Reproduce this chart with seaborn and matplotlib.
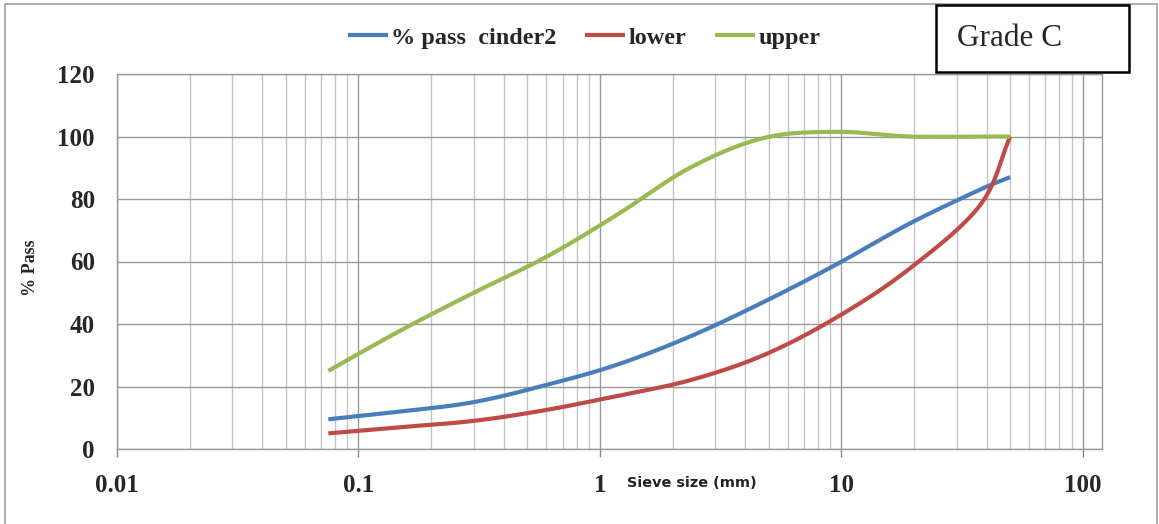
import numpy as np
import pandas as pd
import matplotlib
matplotlib.use("Agg")
import matplotlib.pyplot as plt
from matplotlib.patches import Rectangle
from matplotlib.ticker import LogLocator, NullFormatter, FixedLocator
import seaborn as sns

# Sieve sizes (mm) and percent passing for each curve
sieve_mm = [0.075, 0.15, 0.3, 0.6, 1.18, 2.36, 4.75, 9.5, 19.0, 37.5, 50.0]
pass_cinder2 = [9.5, 12.0, 15.0, 20.5, 27.0, 36.0, 47.0, 59.0, 72.0, 83.0, 87.0]
lower_limit = [5.0, 7.0, 9.0, 12.5, 17.0, 22.0, 30.0, 42.0, 57.5, 78.0, 100.0]
upper_limit = [25.0, 38.0, 50.0, 61.5, 75.0, 90.0, 99.5, 101.5, 100.0, 100.0, 100.0]

series_names = ["% pass  cinder2", "lower", "upper"]
series_values = [pass_cinder2, lower_limit, upper_limit]
series_colors = ["#4a7ebb", "#be4b48", "#98b954"]

x_ticks = [0.01, 0.1, 1, 10, 100]
x_tick_labels = ["0.01", "0.1", "1", "10", "100"]
y_ticks = [0, 20, 40, 60, 80, 100, 120]


def smooth_curve(xs, ys, steps=30):
    """Catmull-Rom smoothing in log10(x) space, like a spreadsheet 'smoothed line'."""
    lx = np.log10(np.asarray(xs, float))
    yy = np.asarray(ys, float)
    px = np.concatenate([[2 * lx[0] - lx[1]], lx, [2 * lx[-1] - lx[-2]]])
    py = np.concatenate([[2 * yy[0] - yy[1]], yy, [2 * yy[-1] - yy[-2]]])
    out_x, out_y = [], []
    t = np.linspace(0, 1, steps, endpoint=False)
    for i in range(1, len(px) - 2):
        p0x, p1x, p2x, p3x = px[i - 1:i + 3]
        p0y, p1y, p2y, p3y = py[i - 1:i + 3]
        # Bezier control points derived from neighbouring points
        c1x, c1y = p1x + (p2x - p0x) / 6, p1y + (p2y - p0y) / 6
        c2x, c2y = p2x - (p3x - p1x) / 6, p2y - (p3y - p1y) / 6
        bx = (1 - t) ** 3 * p1x + 3 * (1 - t) ** 2 * t * c1x + 3 * (1 - t) * t ** 2 * c2x + t ** 3 * p2x
        by = (1 - t) ** 3 * p1y + 3 * (1 - t) ** 2 * t * c1y + 3 * (1 - t) * t ** 2 * c2y + t ** 3 * p2y
        out_x.extend(bx)
        out_y.extend(by)
    out_x.append(lx[-1])
    out_y.append(yy[-1])
    return 10 ** np.array(out_x), np.array(out_y)


sns.set_theme(style="white")
plt.rcParams["font.family"] = ["Liberation Serif", "DejaVu Serif"]

W, H = 1159, 524
fig = plt.figure(figsize=(W / 100, H / 100), dpi=100)
ax = fig.add_axes([117 / W, 1 - 449 / H, (1102 - 117) / W, (449 - 74) / H])

for name, vals, color in zip(series_names, series_values, series_colors):
    sx, sy = smooth_curve(sieve_mm, vals)
    curve = pd.DataFrame({"size": sx, "pass": sy})
    sns.lineplot(data=curve, x="size", y="pass", sort=False, color=color,
                 linewidth=3, ax=ax, label=name, solid_capstyle="butt")

ax.set_xscale("log")
ax.set_xlim(0.01, 120)
ax.set_ylim(0, 120)

ax.xaxis.set_major_locator(FixedLocator(x_ticks))
ax.set_xticklabels(x_tick_labels)
ax.xaxis.set_minor_locator(LogLocator(base=10, subs=np.arange(2, 10)))
ax.xaxis.set_minor_formatter(NullFormatter())
ax.set_yticks(y_ticks)

ax.grid(which="major", axis="both", color="#9a9a9a", linewidth=1.0)
ax.grid(which="minor", axis="x", color="#c4c4c4", linewidth=1.0)
ax.set_axisbelow(True)
for s in ax.spines.values():
    s.set_color("#9a9a9a")
    s.set_linewidth(1.0)

ax.tick_params(axis="x", which="major", direction="out", length=6, width=1,
               color="#8a8a8a", pad=12, labelsize=18, bottom=True)
ax.tick_params(axis="x", which="minor", length=0)
ax.tick_params(axis="y", which="major", length=0, pad=16, labelsize=18)
for lab in ax.get_xticklabels() + ax.get_yticklabels():
    lab.set_fontweight("bold")

ax.set_xlabel("")
ax.set_ylabel("")
fig.text(31 / W, 1 - 268 / H, "% Pass", rotation=90, ha="center", va="center",
         fontsize=13, fontweight="bold")

fig.text(692 / W, 1 - 483 / H, "Sieve size (mm)", ha="center", va="center",
         fontsize=10.4, fontweight="bold", family=["DejaVu Sans"], color="#222222")

ax.legend(loc="center", bbox_to_anchor=((584 - 117) / (1102 - 117), (449 - 38) / (449 - 74)),
          ncol=3, frameon=False, handlelength=1.65, handletextpad=0.12,
          columnspacing=1.2, prop={"weight": "bold", "size": 17.5,
                                   "family": "Liberation Serif"})

# "Grade C" label box
fig.patches.append(Rectangle((936 / W, 1 - 72 / H), (1129 - 936) / W, (72 - 5) / H,
                             transform=fig.transFigure, facecolor="white",
                             edgecolor="black", linewidth=1.8, zorder=5))
fig.text(957 / W, 1 - 38 / H, "Grade C", ha="left", va="center", fontsize=22.5,
         family=["Liberation Serif"], zorder=6)

# outer chart frame
fig.patches.append(Rectangle((5 / W, -0.01), (1157 - 5) / W, 1 - 4 / H + 0.01,
                             transform=fig.transFigure, facecolor="none",
                             edgecolor="#a0a0a0", linewidth=1.2, zorder=0))

fig.savefig("out.png", dpi=100)
